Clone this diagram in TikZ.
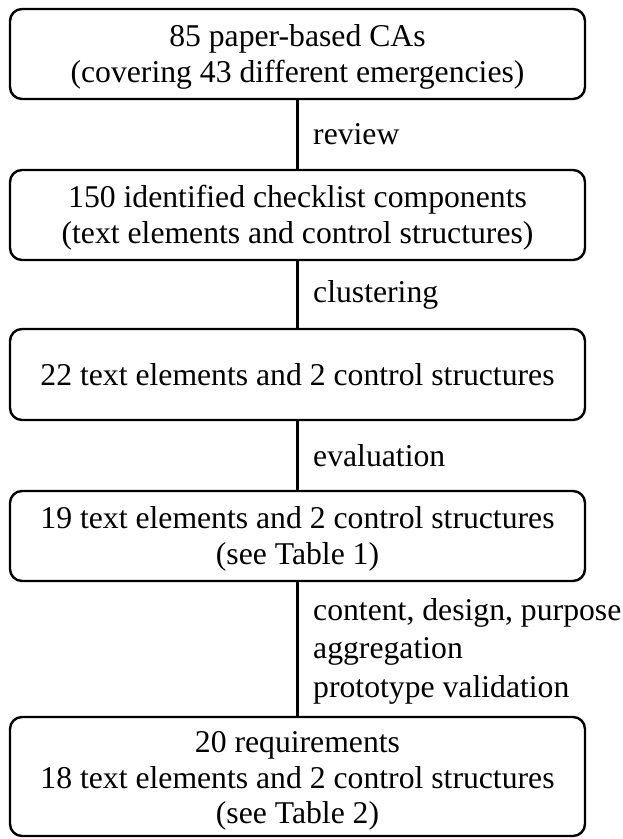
\documentclass[tikz,border=0pt]{standalone}
\usepackage{fontspec}
\setmainfont{Liberation Serif}
\newcommand{\tstrut}{\rule{0pt}{28pt}}
\begin{document}
\begin{tikzpicture}[
  box/.style={draw, line width=2.4pt, rounded corners=12pt, minimum width=575pt,
    align=center, inner sep=0pt, font=\fontsize{31.7}{35.8}\selectfont},
  conn/.style={line width=2.4pt},
  lbl/.style={anchor=west, align=left, inner sep=0pt, xshift=14.5pt,
    font=\fontsize{31.7}{38.5}\selectfont}
]
\useasboundingbox (0pt,0pt) rectangle (622pt,-839pt);
\node[box, minimum height=90pt] (b1) at (297.5pt,-54pt)
  {\tstrut 85 paper-based CAs\\(covering 43 different emergencies)};
\node[box, minimum height=90pt] (b2) at (297.5pt,-215pt)
  {\tstrut 150 identified checklist components\\(text elements and control structures)};
\node[box, minimum height=91pt] (b3) at (297.5pt,-374.5pt)
  {22 text elements and 2 control structures};
\node[box, minimum height=90pt] (b4) at (297.5pt,-536pt)
  {\tstrut 19 text elements and 2 control structures\\(see Table 1)};
\node[box, minimum height=119pt] (b5) at (297.5pt,-776.5pt)
  {\rule{0pt}{30pt}20 requirements\\18 text elements and 2 control structures\\(see Table 2)};
\draw[conn] (b1.south) -- (b2.north) node[midway, lbl] (l1) {review};
\draw[conn] (b2.south) -- (b3.north) node[midway, lbl] (l2) {clustering};
\draw[conn] (b3.south) -- (b4.north) node[midway, lbl] (l3) {evaluation};
\draw[conn] (b4.south) -- (b5.north) node[midway, lbl, yshift=-2pt] (l4)
  {content, design, purpose\\aggregation\\prototype validation};
\end{tikzpicture}
\end{document}
